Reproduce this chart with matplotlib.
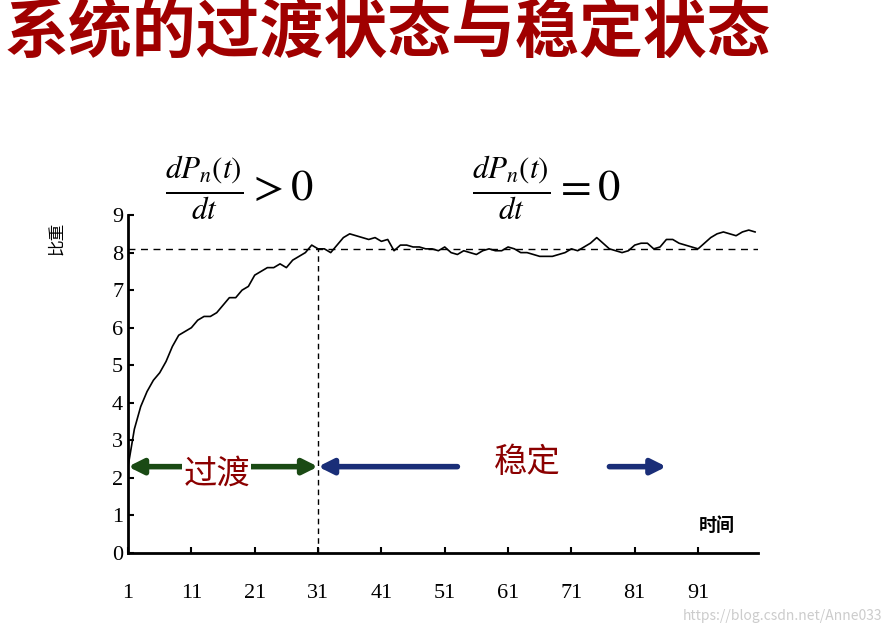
import matplotlib.pyplot as plt
import numpy as np

plt.rcParams['font.family'] = ['Noto Sans CJK SC', 'DejaVu Sans']
plt.rcParams['mathtext.fontset'] = 'stix'

# 比重随时间变化
t = np.arange(1, 101)
ratio = [2.3, 3.3, 3.9, 4.3, 4.6, 4.8, 5.1, 5.5, 5.8, 5.9,
         6.0, 6.2, 6.3, 6.3, 6.4, 6.6, 6.8, 6.8, 7.0, 7.1,
         7.4, 7.5, 7.6, 7.6, 7.7, 7.6, 7.8, 7.9, 8.0, 8.2,
         8.1, 8.1, 8.0, 8.2, 8.4, 8.5, 8.45, 8.4, 8.35, 8.4,
         8.3, 8.35, 8.05, 8.2, 8.2, 8.15, 8.15, 8.1, 8.1, 8.05,
         8.15, 8.0, 7.95, 8.05, 8.0, 7.95, 8.05, 8.1, 8.05, 8.05,
         8.15, 8.1, 8.0, 8.0, 7.95, 7.9, 7.9, 7.9, 7.95, 8.0,
         8.1, 8.05, 8.15, 8.25, 8.4, 8.25, 8.1, 8.05, 8.0, 8.05,
         8.2, 8.25, 8.25, 8.1, 8.15, 8.35, 8.35, 8.25, 8.2, 8.15,
         8.1, 8.25, 8.4, 8.5, 8.55, 8.5, 8.45, 8.55, 8.6, 8.55]
steady = 8.1
t_switch = 31
xticks = [1, 11, 21, 31, 41, 51, 61, 71, 81, 91]

fig = plt.figure(figsize=(8.91, 6.29), dpi=100)
fig.text(0.005, 0.945, '系统的过渡状态与稳定状态', fontsize=46, fontweight='bold',
         color='#a00000', va='center', ha='left')

ax = fig.add_axes([0.1437, 0.1208, 0.7073, 0.5373])
ax.plot(t, ratio, color='black', lw=1.2)
ax.axhline(steady, color='black', ls='--', lw=1, dashes=(5, 4))
ax.plot([t_switch, t_switch], [0, steady], color='black', ls='--', lw=1, dashes=(4, 3))
ax.set_xlim(1, 100.5)
ax.set_ylim(0, 9)
ax.set_xticks(xticks)
ax.set_yticks(range(10))
ax.tick_params(labelsize=16, direction='in', length=4, width=1.5)
ax.tick_params(axis='x', pad=22)
for lab in ax.get_xticklabels() + ax.get_yticklabels():
    lab.set_family('Liberation Serif')
for s in ['top', 'right']:
    ax.spines[s].set_visible(False)
for s in ['left', 'bottom']:
    ax.spines[s].set_linewidth(2)
ax.set_ylabel('比重', fontsize=12, labelpad=2)
ax.yaxis.set_label_coords(-0.1, 0.93)
ax.text(94, 0.6, '时间', fontsize=13, fontweight='bold', ha='center')

green = '#1a4a14'
blue = '#1a2e78'
ax.annotate('', xy=(1, 2.3), xytext=(t_switch, 2.3),
            arrowprops=dict(arrowstyle='<|-|>', color=green, lw=4, mutation_scale=22,
                            shrinkA=0, shrinkB=0),
            annotation_clip=False)
ax.text(15, 2.1, '过渡', fontsize=24, color='#8b0000', ha='center', va='center',
        bbox=dict(facecolor='white', edgecolor='none', pad=1))
ax.annotate('', xy=(t_switch, 2.3), xytext=(53, 2.3),
            arrowprops=dict(arrowstyle='-|>', color=blue, lw=4, mutation_scale=22,
                            shrinkA=0, shrinkB=0))
ax.annotate('', xy=(86, 2.3), xytext=(77, 2.3),
            arrowprops=dict(arrowstyle='-|>', color=blue, lw=4, mutation_scale=22,
                            shrinkA=0, shrinkB=0))
ax.text(64, 2.4, '稳定', fontsize=24, color='#8b0000', ha='center', va='center')

fig.text(0.185, 0.70, r'$\frac{dP_n(t)}{dt}>0$', fontsize=32, va='center', ha='left')
fig.text(0.53, 0.70, r'$\frac{dP_n(t)}{dt}=0$', fontsize=32, va='center', ha='left')
fig.text(0.99, 0.01, 'https://blog.csdn.net/Anne033', fontsize=10, color='#cccccc',
         ha='right', va='bottom')
fig.savefig('out.png')
